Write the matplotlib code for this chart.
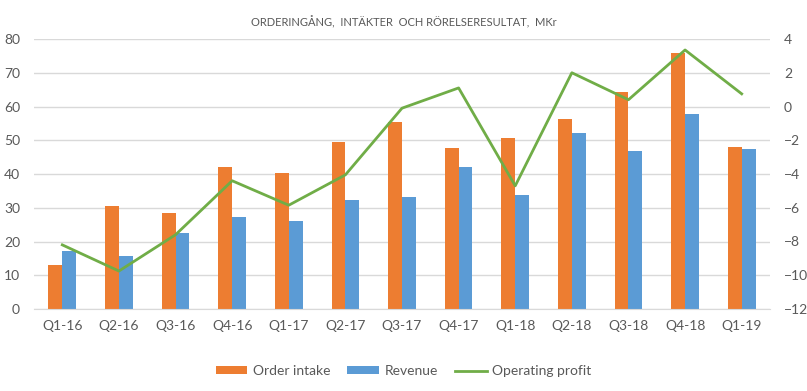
import matplotlib.pyplot as plt
import numpy as np

# data
quarters = ['Q1-16', 'Q2-16', 'Q3-16', 'Q4-16', 'Q1-17', 'Q2-17', 'Q3-17',
            'Q4-17', 'Q1-18', 'Q2-18', 'Q3-18', 'Q4-18', 'Q1-19']
order_intake = [13.0, 30.5, 28.3, 42.0, 40.4, 49.5, 55.4, 47.6, 50.7, 56.4, 64.3, 75.8, 47.9]
revenue = [17.3, 15.6, 22.6, 27.4, 26.0, 32.3, 33.2, 42.2, 33.8, 52.1, 46.8, 57.8, 47.4]
operating_profit = [-8.2, -9.75, -7.6, -4.4, -5.85, -4.05, -0.1, 1.1, -4.7, 2.0, 0.4, 3.35, 0.75]

orange = '#ED7D31'
blue = '#5B9BD5'
green = '#70AD47'
grey = '#595959'

plt.rcParams['font.family'] = ['Lato', 'DejaVu Sans']

fig = plt.figure(figsize=(8.07, 3.91), dpi=100)
ax = fig.add_axes([34 / 807, 1 - 309 / 391, (770 - 34) / 807, 270 / 391])
ax2 = ax.twinx()

x = np.arange(len(quarters))
w = 0.245
b1 = ax.bar(x - w / 2, order_intake, w, color=orange, label='Order intake', zorder=2)
b2 = ax.bar(x + w / 2, revenue, w, color=blue, label='Revenue', zorder=2)
l1, = ax2.plot(x, operating_profit, color=green, linewidth=2, label='Operating profit')

ax.set_xlim(-0.5, len(quarters) - 0.5)
ax.set_ylim(0, 80)
ax.set_yticks(range(0, 81, 10))
ax2.set_ylim(-12, 4)
ax2.set_yticks(range(-12, 5, 2))

ax.set_xticks(x)
ax.set_xticklabels(quarters)
ax.yaxis.grid(True, color='#D9D9D9', linewidth=1, zorder=0)
ax.set_axisbelow(True)

for a in (ax, ax2):
    for s in a.spines.values():
        s.set_visible(False)
    a.tick_params(length=0, colors=grey, labelsize=10)
ax.spines['bottom'].set_visible(True)
ax.spines['bottom'].set_color('#D9D9D9')
ax.tick_params(axis='x', pad=8)
ax.tick_params(axis='y', pad=10)
ax2.tick_params(axis='y', pad=10)

fig.text(0.5, 1 - 22 / 391, 'ORDERINGÅNG,  INTÄKTER  OCH RÖRELSERESULTAT,  MKr',
         ha='center', va='center', fontsize=8, color=grey)

fig.legend([b1, b2, l1], ['Order intake', 'Revenue', 'Operating profit'],
           loc='center', bbox_to_anchor=(0.5, 1 - 371 / 391), ncol=3, frameon=False,
           fontsize=10, labelcolor=grey, handlelength=2.3, handleheight=0.5,
           columnspacing=1.2, handletextpad=0.4)

fig.savefig('out.png', dpi=100)
